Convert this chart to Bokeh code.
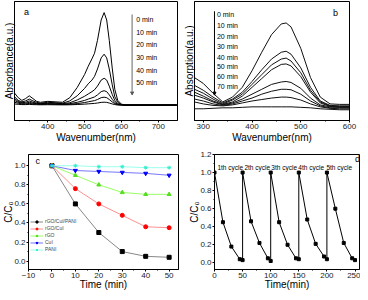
from bokeh.plotting import figure
from bokeh.layouts import column, row
from bokeh.models import FixedTicker, Arrow, NormalHead, Legend, LegendItem, Range1d
from bokeh.embed import file_html
from bokeh.resources import INLINE
from bokeh.core.properties import value

FONT = "Liberation Sans"

# ---------------- data ----------------
# panel a: absorbance spectra (arbitrary units)
wl_a = [310, 320, 330, 340, 350, 360, 370, 380, 400, 420, 440, 460, 480, 500, 510, 520,
        527, 535, 545, 553, 560, 567, 575, 582, 590, 600, 610, 750]
abs_0 = [0.13, 0.08, 0.05, 0.07, 0.10, 0.07, 0.04, 0.03, 0.04, 0.035, 0.03, 0.08, 0.19, 0.33, 0.42, 0.50,
         0.56, 0.70, 0.92, 1.00, 0.92, 0.70, 0.40, 0.17, 0.05, 0.01, 0.0, 0.0]
abs_10 = [0.09, 0.05, 0.035, 0.045, 0.065, 0.045, 0.03, 0.02, 0.03, 0.025, 0.02, 0.045, 0.10, 0.18, 0.23, 0.27,
          0.31, 0.39, 0.51, 0.55, 0.51, 0.39, 0.22, 0.09, 0.03, 0.005, 0.0, 0.0]
abs_20 = [0.07, 0.04, 0.025, 0.03, 0.045, 0.03, 0.02, 0.015, 0.02, 0.02, 0.015, 0.025, 0.055, 0.095, 0.12, 0.145,
          0.165, 0.205, 0.27, 0.29, 0.27, 0.205, 0.115, 0.05, 0.015, 0.003, 0.0, 0.0]
abs_30 = [0.05, 0.03, 0.02, 0.02, 0.03, 0.02, 0.015, 0.01, 0.015, 0.012, 0.01, 0.015, 0.03, 0.05, 0.065, 0.078,
          0.088, 0.11, 0.145, 0.155, 0.145, 0.11, 0.062, 0.027, 0.008, 0.002, 0.0, 0.0]
abs_40 = [0.03, 0.02, 0.012, 0.012, 0.018, 0.012, 0.01, 0.008, 0.01, 0.008, 0.006, 0.008, 0.016, 0.027, 0.035, 0.043,
          0.048, 0.06, 0.08, 0.085, 0.08, 0.06, 0.034, 0.015, 0.004, 0.001, 0.0, 0.0]
abs_50 = [0.012, 0.008, 0.005, 0.005, 0.007, 0.005, 0.004, 0.003, 0.004, 0.003, 0.002, 0.003, 0.006, 0.01, 0.013, 0.016,
          0.018, 0.022, 0.029, 0.031, 0.029, 0.022, 0.012, 0.005, 0.001, 0.0, 0.0, 0.0]
labels_a = ["0 min", "10 min", "20 min", "30 min", "40 min", "50 min"]

# panel b: absorption spectra (arbitrary units)
wl_b = [282, 300, 320, 340, 360, 380, 400, 420, 440, 460, 470, 480, 500, 520, 540, 560, 580, 600]
ab_0 = [0.44, 0.38, 0.28, 0.19, 0.24, 0.34, 0.51, 0.70, 0.88, 0.99, 1.00, 0.96, 0.74, 0.44, 0.24, 0.17, 0.165, 0.165]
ab_10 = [0.36, 0.31, 0.24, 0.18, 0.22, 0.29, 0.40, 0.52, 0.63, 0.70, 0.71, 0.68, 0.54, 0.34, 0.20, 0.155, 0.15, 0.15]
ab_20 = [0.32, 0.28, 0.22, 0.17, 0.21, 0.27, 0.37, 0.47, 0.57, 0.63, 0.64, 0.61, 0.49, 0.31, 0.19, 0.15, 0.145, 0.145]
ab_30 = [0.29, 0.25, 0.20, 0.165, 0.19, 0.25, 0.34, 0.43, 0.52, 0.575, 0.58, 0.56, 0.45, 0.29, 0.18, 0.145, 0.14, 0.14]
ab_40 = [0.26, 0.23, 0.19, 0.16, 0.18, 0.22, 0.27, 0.32, 0.37, 0.395, 0.40, 0.39, 0.33, 0.23, 0.16, 0.14, 0.135, 0.135]
ab_50 = [0.22, 0.20, 0.17, 0.155, 0.17, 0.20, 0.23, 0.27, 0.30, 0.32, 0.32, 0.315, 0.27, 0.20, 0.15, 0.13, 0.13, 0.13]
ab_60 = [0.19, 0.17, 0.155, 0.15, 0.16, 0.18, 0.20, 0.215, 0.23, 0.24, 0.24, 0.235, 0.21, 0.17, 0.14, 0.125, 0.12, 0.12]
ab_70 = [0.12, 0.12, 0.125, 0.13, 0.13, 0.135, 0.14, 0.14, 0.14, 0.14, 0.14, 0.14, 0.135, 0.13, 0.12, 0.115, 0.11, 0.11]
labels_b = ["0 min", "10 min", "20 min", "30 min", "40 min", "50 min", "60 min", "70 min"]

# panel c: C/C0 vs time
time_c = [0, 10, 20, 30, 40, 50]
c_rgo_cui_pani = [1.0, 0.60, 0.30, 0.10, 0.05, 0.04]
c_rgo_cui = [1.0, 0.76, 0.60, 0.48, 0.36, 0.35]
c_rgo = [1.0, 0.90, 0.80, 0.72, 0.70, 0.70]
c_cui = [1.0, 0.95, 0.94, 0.93, 0.92, 0.90]
c_pani = [1.0, 1.0, 0.99, 0.99, 0.98, 0.98]
names_c = ["rGO/CuI/PANI", "rGO/CuI", "rGO", "CuI", "PANI"]

# panel d: cycling
time_d = [0, 15, 30, 45, 50, 50, 65, 80, 95, 100, 100, 115, 130, 145, 150,
          150, 165, 180, 195, 200, 200, 215, 230, 245, 250]
c_d = [1.0, 0.45, 0.18, 0.04, 0.03, 1.0, 0.46, 0.22, 0.05, 0.02, 1.0, 0.45, 0.20, 0.05, 0.04,
       1.0, 0.48, 0.21, 0.07, 0.04, 1.0, 0.60, 0.22, 0.05, 0.03]
cycle_labels = ["1th cycle", "2th cycle", "3th cycle", "4th cycle", "5th cycle"]
cycle_label_x = [28, 76, 124, 172, 222]


def base_fig(w, h, xr, yr, bl, br, bt, bb):
    p = figure(width=w, height=h, x_range=Range1d(*xr), y_range=Range1d(*yr),
               output_backend="svg", toolbar_location=None,
               min_border_left=bl, min_border_right=br, min_border_top=bt, min_border_bottom=bb)
    p.xgrid.visible = False
    p.ygrid.visible = False
    p.outline_line_color = "black"
    p.outline_line_width = 1
    p.background_fill_color = "white"
    p.border_fill_color = "white"
    for ax in (p.xaxis[0], p.yaxis[0]):
        ax.axis_line_color = "black"
        ax.major_tick_in = 0
        ax.major_tick_out = 2
        ax.minor_tick_in = 0
        ax.minor_tick_out = 1
        ax.major_label_standoff = 1
        ax.axis_label_standoff = 0
        ax.major_label_text_font = FONT
        ax.major_label_text_font_size = "8px"
        ax.major_label_text_color = "#222222"
        ax.axis_label_text_font = FONT
        ax.axis_label_text_font_size = "10px"
        ax.axis_label_text_font_style = "normal"
        ax.axis_label_text_color = "black"
    return p


def add_text(p, xs, ys, texts, size, align="left"):
    p.text(x=xs, y=ys, text=texts, text_font=value(FONT), text_font_size=size,
           text_color="black", text_baseline="middle", text_align=align)


# ---------------- panel a ----------------
pa = base_fig(180, 149, (310, 752), (-0.167, 1.12), 14, 3, 1, 28)
pa.xaxis.ticker = FixedTicker(ticks=[400, 500, 600, 700], minor_ticks=[350, 450, 550, 650])
pa.yaxis.ticker = FixedTicker(ticks=[], minor_ticks=[])
pa.yaxis.major_tick_out = 0
pa.yaxis.major_label_standoff = 0
pa.xaxis.axis_label = "Wavenumber(nm)"
pa.yaxis.axis_label = "Absorbance(a.u.)"
for ys in [abs_0, abs_10, abs_20, abs_30, abs_40, abs_50]:
    pa.line(wl_a, ys, line_color="black", line_width=1)
add_text(pa, [336], [1.01], ["a"], "9px")
add_text(pa, [640] * 6, [0.92, 0.79, 0.65, 0.51, 0.37, 0.24], labels_a, "7px")
pa.add_layout(Arrow(end=NormalHead(size=3, fill_color="#555555", line_color="#555555"),
                    x_start=629, y_start=0.98, x_end=629, y_end=0.11,
                    line_color="#999999", line_width=1.5))

# ---------------- panel b ----------------
pb = base_fig(180, 149, (282, 600), (0, 1.22), 11, 11, 1, 29)
pb.xaxis.ticker = FixedTicker(ticks=[300, 400, 500, 600], minor_ticks=[350, 450, 550])
pb.yaxis.ticker = FixedTicker(ticks=[], minor_ticks=[])
pb.yaxis.major_tick_out = 0
pb.yaxis.major_label_standoff = 0
pb.xaxis.axis_label = "Wavenumber(nm)"
pb.yaxis.axis_label = "Absorption(a.u.)"
for ys in [ab_0, ab_10, ab_20, ab_30, ab_40, ab_50, ab_60, ab_70]:
    pb.line(wl_b, ys, line_color="#111111", line_width=1)
add_text(pb, [566], [1.10], ["b"], "9px")
add_text(pb, [328] * 8, [1.09, 0.97, 0.86, 0.76, 0.65, 0.55, 0.45, 0.35], labels_b, "7px")
pb.add_layout(Arrow(end=NormalHead(size=3, fill_color="black", line_color="black"),
                    x_start=323, y_start=1.12, x_end=323, y_end=0.26,
                    line_color="black", line_width=1))

# ---------------- panel c ----------------
pc = base_fig(186, 143, (-10, 54), (-0.088, 1.118), 22, 8, 1, 21)
pc.xaxis.ticker = FixedTicker(ticks=[-10, 0, 10, 20, 30, 40, 50], minor_ticks=[-5, 5, 15, 25, 35, 45])
pc.yaxis.ticker = FixedTicker(ticks=[0.0, 0.2, 0.4, 0.6, 0.8, 1.0], minor_ticks=[0.1, 0.3, 0.5, 0.7, 0.9])
pc.yaxis.major_label_overrides = {0.0: "0.0", 0.2: "0.2", 0.4: "0.4", 0.6: "0.6", 0.8: "0.8", 1.0: "1.0"}
pc.xaxis.axis_label = "Time (min)"
pc.yaxis.axis_label = "C/C\u2080"
pc.yaxis.axis_label_standoff = -3
pc.xaxis.axis_label_standoff = -2
series_c = [c_rgo_cui_pani, c_rgo_cui, c_rgo, c_cui, c_pani]
marker_c = ["square", "circle", "triangle", "inverted_triangle", "asterisk"]
mcol_c = ["#000000", "#ff0000", "#55dd22", "#0000ff", "#33eecc"]
lcol_c = ["#888888", "#ff9090", "#99ff66", "#7777ff", "#99ffee"]
items = []
for name, ys, mk, mc, lc in zip(names_c, series_c, marker_c, mcol_c, lcol_c):
    ln = pc.line(time_c, ys, line_color=lc, line_width=1)
    sc = pc.scatter(time_c, ys, marker=mk, size=4, fill_color=mc, line_color=mc, line_width=1)
    items.append(LegendItem(label=name, renderers=[ln, sc]))
leg = Legend(items=items, location=(2, 17), label_text_font=FONT, label_text_font_size="5px",
             glyph_height=5, glyph_width=13, label_height=5, spacing=1, padding=1, margin=0,
             label_standoff=2, border_line_color=None, background_fill_alpha=0)
pc.add_layout(leg)
add_text(pc, [-7], [1.05], ["c"], "9px")

# ---------------- panel d ----------------
pd_ = base_fig(174, 143, (0, 258), (-0.074, 1.2), 21, 1, 5, 20)
pd_.xaxis.ticker = FixedTicker(ticks=[0, 50, 100, 150, 200, 250], minor_ticks=[25, 75, 125, 175, 225])
pd_.yaxis.ticker = FixedTicker(ticks=[0.0, 0.2, 0.4, 0.6, 0.8, 1.0, 1.2],
                               minor_ticks=[0.1, 0.3, 0.5, 0.7, 0.9, 1.1])
pd_.yaxis.major_label_overrides = {0.0: "0.0", 0.2: "0.2", 0.4: "0.4", 0.6: "0.6", 0.8: "0.8",
                                   1.0: "1.0", 1.2: "1.2"}
pd_.xaxis.axis_label = "Time(min)"
pd_.yaxis.axis_label = "C/C\u2080"
pd_.yaxis.axis_label_standoff = -3
pd_.xaxis.axis_label_standoff = -2
pd_.line(time_d, c_d, line_color="black", line_width=1)
pd_.scatter(time_d, c_d, marker="square", size=3, fill_color="black", line_color="black")
add_text(pd_, cycle_label_x, [1.06] * 5, cycle_labels, "6.5px", align="center")
add_text(pd_, [250], [1.15], ["d"], "9px")

layout = column(row(pa, pb), row(pc, pd_))
open("out.html", "w").write(file_html(layout, INLINE))
